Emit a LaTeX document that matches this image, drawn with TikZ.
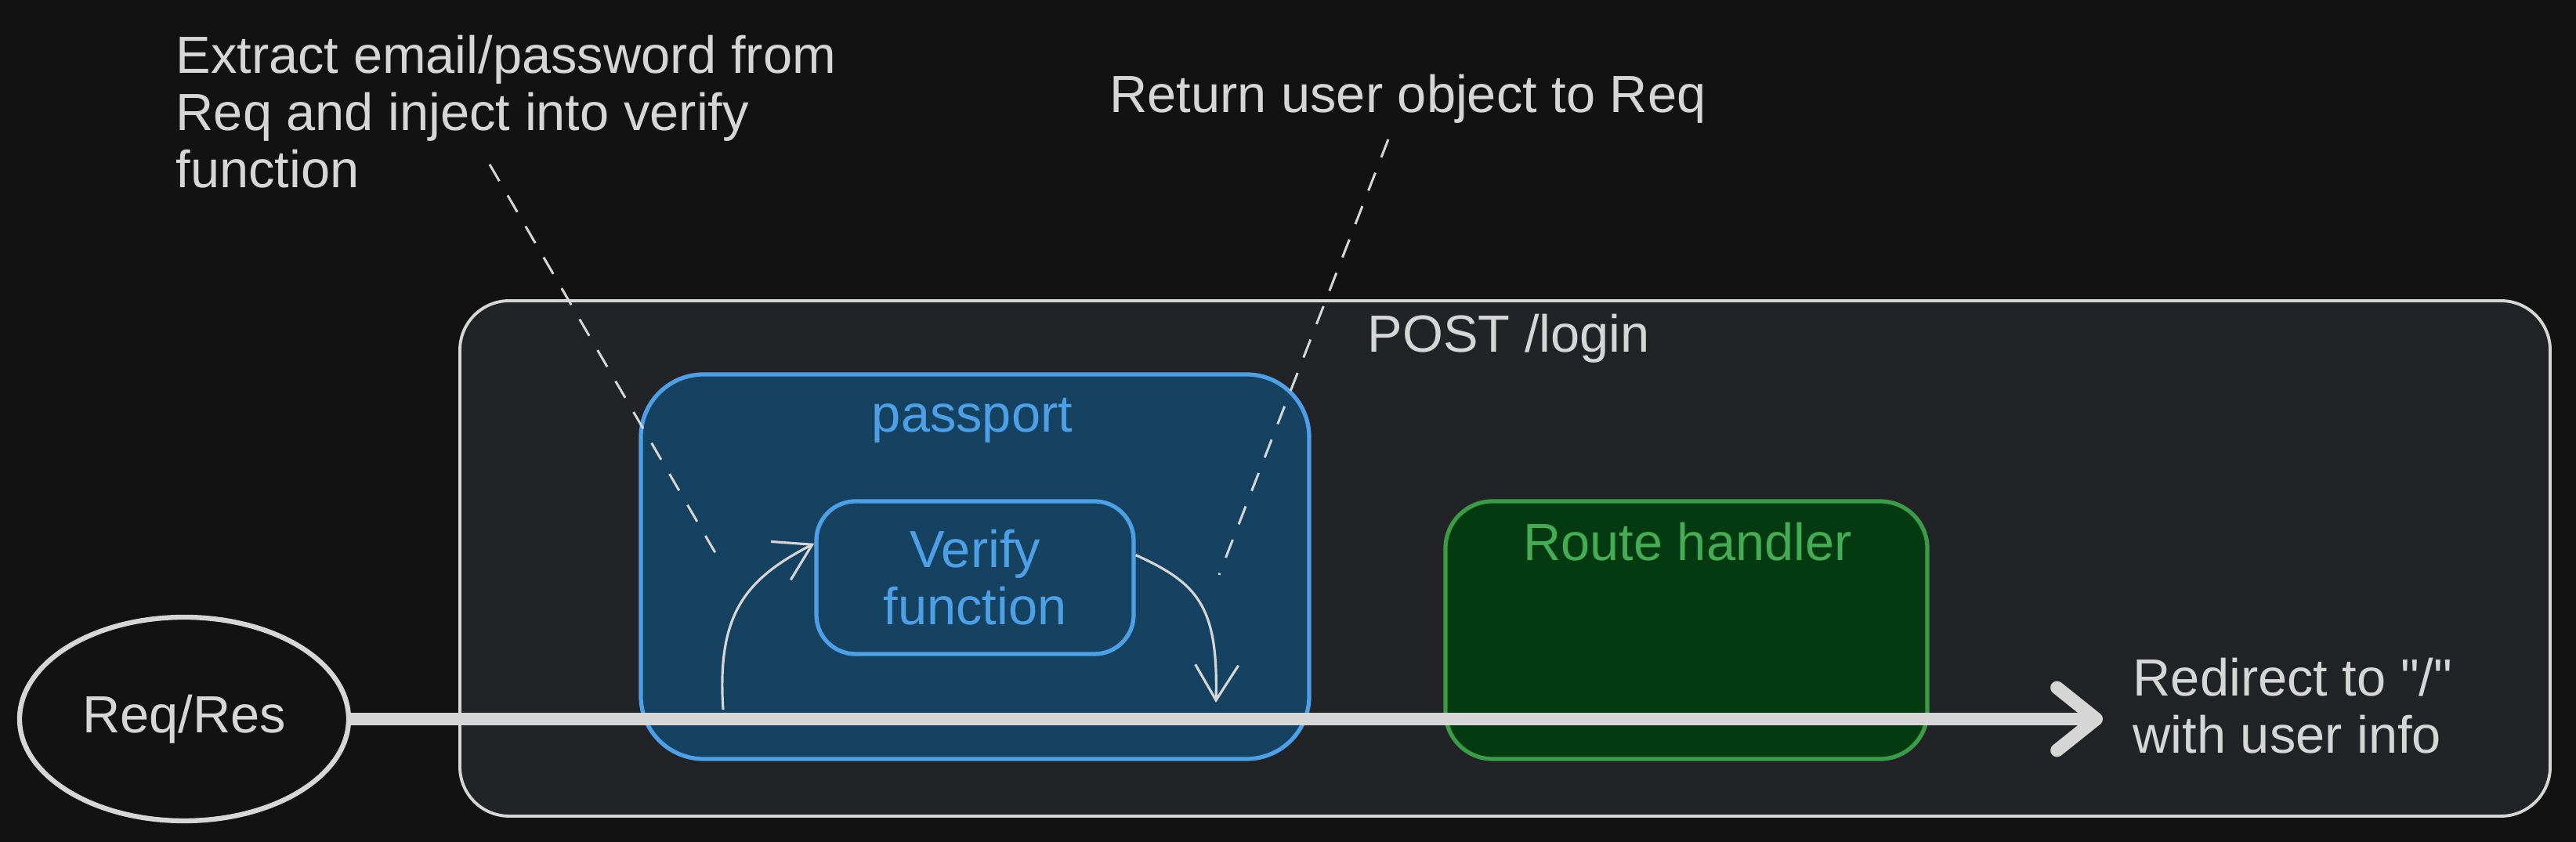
\documentclass[tikz,border=0pt]{standalone}
\usepackage{fontspec}
\setmainfont{Liberation Sans}[Ligatures=TeXOff]
\usetikzlibrary{arrows.meta,shapes.geometric}

\definecolor{bg}{HTML}{121212}
\definecolor{panel}{HTML}{222327}
\definecolor{ink}{HTML}{D6D6D6}
\definecolor{blueline}{HTML}{4EA0E6}
\definecolor{bluefill}{HTML}{164262}
\definecolor{greenline}{HTML}{3A9B48}
\definecolor{greenfill}{HTML}{033A0F}
\definecolor{greentext}{HTML}{45AB55}

\begin{document}
\begin{tikzpicture}[
  txt/.style={text=ink, inner sep=0pt, font=\fontsize{19pt}{20.8pt}\selectfont},
  outerbox/.style={draw=ink, fill=panel, line width=1.1pt, rounded corners=0.63cm},
  passbox/.style={draw=blueline, fill=bluefill, line width=1.5pt, text=blueline,
    font=\fontsize{19pt}{20.8pt}\selectfont, align=center},
  routebox/.style={draw=greenline, fill=greenfill, line width=1.5pt, rounded corners=0.6cm},
  flow/.style={draw=ink, line width=4.8pt, -{Straight Barb[length=5mm,width=8mm,round]}},
  call/.style={draw=ink, line width=0.9pt, -{Straight Barb[length=4.5mm,width=5.5mm]}},
  note/.style={draw=ink, line width=0.85pt, dash pattern=on 7pt off 6pt}
]

\useasboundingbox (0,0) rectangle (32.88,10.75);
\fill[bg] (0,0) rectangle (32.88,10.75);

% Nodes
\node[outerbox, minimum width=26.68cm, minimum height=6.58cm] (post) at (19.21,3.62) {};
\node[txt, anchor=west] (postlbl) at (17.45,6.43) {POST /login};
\node[passbox, rounded corners=0.8cm, minimum width=8.53cm, minimum height=4.91cm] (passport) at (12.445,3.515) {};
\node[txt, text=blueline] (passlbl) at (12.41,5.38) {passport};
\node[passbox, rounded corners=0.5cm, minimum width=4.05cm, minimum height=1.95cm] (verify) at (12.445,3.375) {Verify\\function};
\node[routebox, minimum width=6.15cm, minimum height=3.29cm] (route) at (21.525,2.705) {};
\node[txt, text=greentext] (routelbl) at (21.54,3.83) {Route handler};
\node[txt, draw=ink, line width=1.8pt, ellipse, minimum width=4.2cm, minimum height=2.6cm] (req) at (2.35,1.57) {Req/Res};
\node[txt, anchor=west, align=left] (extract) at (2.24,9.32) {Extract email/password from\\Req and inject into verify\\function};
\node[txt] (ret) at (17.97,9.49) {Return user object to Req};
\node[txt, anchor=west, align=left] (redirect) at (27.22,1.74) {Redirect to "/"\\with user info};

\coordinate (out) at (26.84,1.57);
\coordinate (up) at (9.23,1.69);
\coordinate (down) at (15.52,1.78);
\coordinate (n1) at (6.25,8.65);
\coordinate (n1end) at (9.23,3.52);
\coordinate (n2) at (17.72,8.97);
\coordinate (n2end) at (15.56,3.41);

% Edges
\draw[note] (n1) -- (n1end);
\draw[note] (n2) -- (n2end);
\draw[call] (up) .. controls (9.15,2.9) and (9.5,3.35) .. (verify.168);
\draw[call] (verify.8) .. controls (15.3,3.3) and (15.55,3.0) .. (down);
\draw[flow] (req.east) -- (out);

\end{tikzpicture}
\end{document}
